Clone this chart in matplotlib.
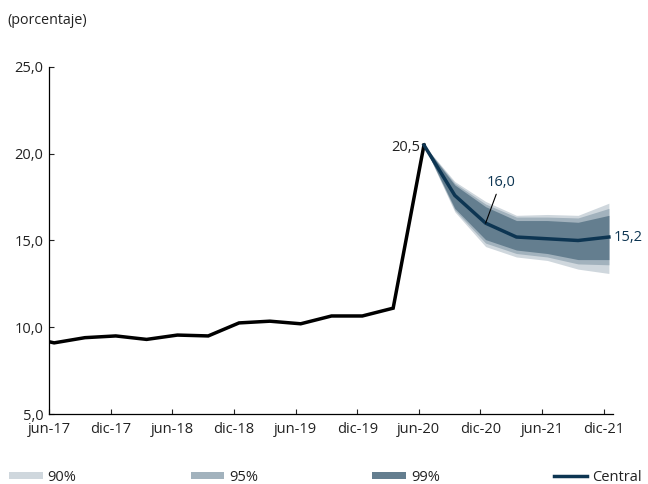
import matplotlib
matplotlib.use("Agg")
import matplotlib.pyplot as plt
from matplotlib.ticker import FuncFormatter
import numpy as np

plt.rcParams['font.family'] = ['Open Sans', 'DejaVu Sans']

# quarterly observations, mar-17 .. jun-20
hist_vals = [9.5, 9.1, 9.4, 9.5, 9.3, 9.55, 9.5, 10.25, 10.35, 10.2, 10.65, 10.65, 11.1, 20.5]
# projection, jun-20 .. dic-21
central = [20.5, 17.6, 16.0, 15.2, 15.1, 15.0, 15.2]
band90_lo = [20.5, 16.65, 14.65, 14.05, 13.85, 13.35, 13.1]
band90_hi = [20.5, 18.4, 17.25, 16.45, 16.5, 16.45, 17.15]
band95_lo = [20.5, 16.75, 14.85, 14.25, 14.05, 13.65, 13.6]
band95_hi = [20.5, 18.3, 17.1, 16.35, 16.35, 16.3, 16.85]
band99_lo = [20.5, 16.85, 15.05, 14.45, 14.25, 13.9, 13.9]
band99_hi = [20.5, 18.2, 16.95, 16.15, 16.15, 16.05, 16.45]

tick_labels = ["jun-17", "dic-17", "jun-18", "dic-18", "jun-19",
               "dic-19", "jun-20", "dic-20", "jun-21", "dic-21"]

# months counted from jun-17, points sit at the end of the month
x_hist = np.arange(-1, len(hist_vals) - 1) * 3 + 0.5
x_proj = np.arange(12, 12 + len(central)) * 3 + 0.5

c90, c95, c99 = "#cfd7dd", "#a2b2bd", "#647e8f"
navy = "#0d3552"
fs = 10.5

fig = plt.figure(figsize=(6.48, 4.84), dpi=100)
ax = fig.add_axes([0.0756, 0.1446, 0.8704, 0.717])

ax.fill_between(x_proj, band90_lo, band90_hi, color=c90, lw=0, label="90%")
ax.fill_between(x_proj, band95_lo, band95_hi, color=c95, lw=0, label="95%")
ax.fill_between(x_proj, band99_lo, band99_hi, color=c99, lw=0, label="99%")
ax.plot(x_hist, hist_vals, color="black", lw=2.5, solid_joinstyle="miter")
ax.plot(x_proj, central, color=navy, lw=2.5, label="Central")

ax.set_xlim(0, 54.9)
ax.set_ylim(5, 25)
ax.set_yticks([5, 10, 15, 20, 25])
ax.yaxis.set_major_formatter(FuncFormatter(lambda v, p: f"{v:.1f}".replace(".", ",")))
ax.set_xticks(np.arange(len(tick_labels)) * 6)
ax.set_xticklabels(tick_labels)
ax.tick_params(axis="both", direction="in", length=3.5, width=0.8, labelsize=fs,
               colors="#222222")
ax.tick_params(axis="x", pad=6)
ax.tick_params(axis="y", pad=4)
for s in ["top", "right"]:
    ax.spines[s].set_visible(False)
for s in ["left", "bottom"]:
    ax.spines[s].set_linewidth(0.9)

# value labels
ax.annotate("20,5", xy=(x_proj[0], central[0]), xytext=(-4, -2), textcoords="offset pixels",
            ha="right", va="center", fontsize=fs, color="#222222")
ax.annotate("16,0", xy=(x_proj[2], central[2]), xytext=(15, 33), textcoords="offset pixels",
            ha="center", va="bottom", fontsize=fs, color=navy,
            arrowprops=dict(arrowstyle="-", color="black", lw=0.8, shrinkA=1, shrinkB=0,
                            relpos=(0.4, 0)))
ax.annotate("15,2", xy=(x_proj[-1], central[-1]), xytext=(5, 0), textcoords="offset pixels",
            ha="left", va="center", fontsize=fs, color=navy, annotation_clip=False)

fig.text(0.012, 0.958, "(porcentaje)", fontsize=10.3, color="#222222", va="center")

fig.legend(loc="center", bbox_to_anchor=(0.005, 0.0, 0.995, 0.028), mode="expand", ncol=4,
           frameon=False, fontsize=fs, handlelength=2.3, handleheight=0.42,
           handletextpad=0.35, borderaxespad=0, labelcolor="#222222")

fig.savefig("out.png", dpi=100)
